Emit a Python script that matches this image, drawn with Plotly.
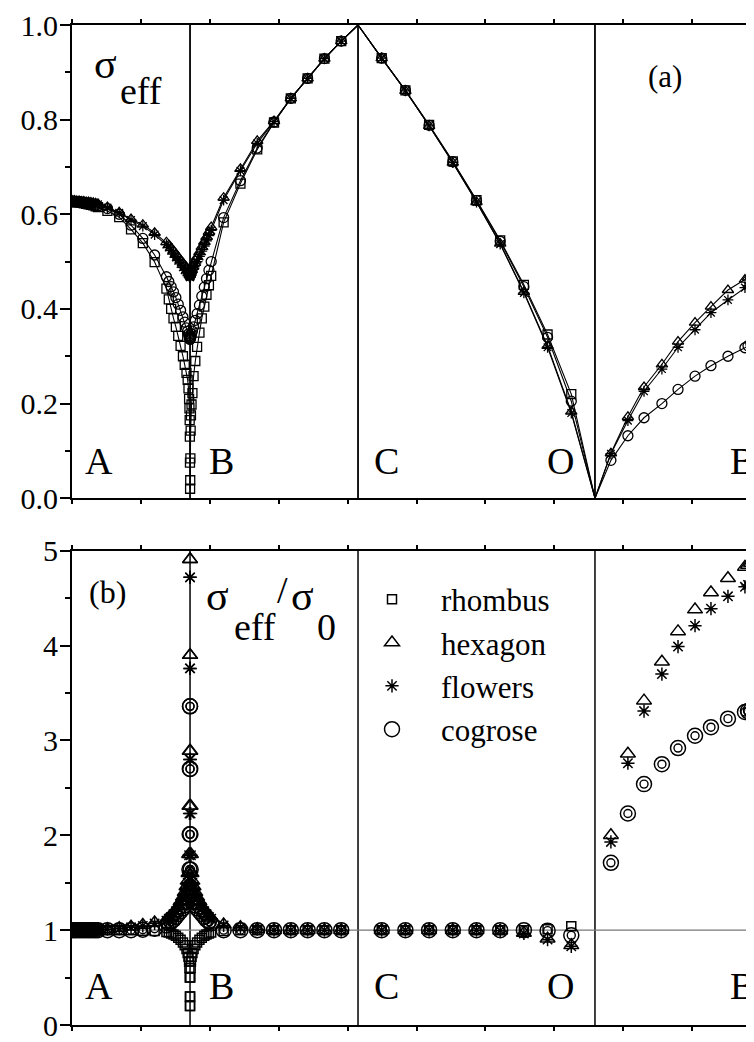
import plotly.graph_objects as go

# ---------------- path geometry (x axis in tick units) ----------------
X_A, X_B, X_C, X_O, X_B2 = 0.0, 1.713, 4.151, 7.59, 10.16
X_MAX = 9.898
SIGMA_AT_C = 1.0
SIGMA_AT_O = 0.0

# sampling (fraction along each segment)
t_ab = [0, .02, .04, .06, .08, .10, .12, .14, .16, .18, .20, .22, .3, .4, .5, .6, .7, .8,
        .82, .84, .86, .88, .9, .92, .94, .955, .97, .98, .987, .992, .995, .997, .9985, .9995]
t_bc = [.00036, .0011, .0021, .0036, .0054, .0089, .0143, .021, .0315, .042, .056, .07,
        .085, .098, .1125, .126, .2, .3, .4, .5, .6, .7, .8, .9]
t_co = [.1, .2, .3, .4, .5, .6, .7, .8, .9]
s_ob = [.09, .186, .277, .378, .469, .565, .655, .751, .847, .864, .881, .898, .915]

# ---------------- panel (a): sigma_eff ----------------
rhombus_ab = [.626, .626, .625, .625, .624, .623, .622, .621, .620, .619, .617, .615, .607, .594,
              .568, .539, .499, .443, .42, .40, .38, .362, .343, .322, .30, .282, .265, .25, .232,
              .21, .19, .165, .13, .075]
hexagon_ab = [.629, .629, .628, .628, .627, .627, .626, .626, .625, .624, .623, .622, .615, .604,
              .59, .578, .561, .541, .535, .529, .523, .516, .51, .503, .497, .492, .488, .485,
              .482, .481, .48, .479, .479, .478]
flowers_ab = [.628, .628, .627, .627, .626, .626, .625, .625, .624, .623, .622, .621, .614, .603,
              .588, .575, .557, .536, .53, .523, .516, .509, .502, .495, .488, .482, .477, .474,
              .471, .47, .469, .468, .468, .467]
cogrose_ab = [.628, .628, .627, .627, .626, .625, .624, .623, .622, .621, .619, .617, .612, .60,
              .577, .549, .514, .468, .458, .447, .436, .424, .41, .397, .383, .372, .36, .353,
              .347, .343, .34, .338, .337, .336]

rhombus_bc = [.02, .038, .084, .143, .175, .198, .222, .258, .29, .32, .35, .38, .405, .43, .45,
              .47, .583, .665, .737, .794, .845, .887, .929, .966]
hexagon_bc = [.478, .479, .48, .481, .482, .485, .489, .494, .502, .51, .52, .531, .542, .552,
              .563, .573, .635, .696, .755, .797, .845, .887, .929, .966]
flowers_bc = [.467, .468, .469, .47, .471, .474, .478, .484, .492, .5, .511, .522, .533, .544,
              .555, .566, .63, .692, .75, .796, .845, .887, .929, .966]
cogrose_bc = [.336, .337, .338, .34, .342, .347, .353, .362, .376, .39, .408, .427, .446, .464,
              .482, .50, .593, .671, .74, .795, .845, .887, .929, .966]

rhombus_co = [.93, .862, .789, .712, .63, .545, .451, .346, .22]
hexagon_co = [.93, .861, .787, .709, .626, .538, .436, .322, .183]
flowers_co = [.93, .861, .787, .709, .626, .537, .434, .319, .18]
cogrose_co = [.93, .862, .788, .711, .629, .543, .447, .34, .205]

hexagon_ob = [.095, .172, .235, .283, .331, .371, .405, .44, .462, .466, .47, .474, .478]
flowers_ob = [.094, .164, .226, .273, .319, .356, .392, .419, .445, .449, .452, .455, .458]
cogrose_ob = [.08, .132, .17, .20, .23, .258, .28, .30, .318, .322, .326, .33, .333]

# ---------------- panel (b): sigma_eff / sigma_0 ----------------
rhombus_r_ab = [1, 1, 1, 1, 1, 1, 1, 1, 1, 1, 1, 1, 1.0, 1.0, .998, .995, .99, .98,
                .975, .965, .955, .94, .92, .9, .87, .84, .8, .76, .72, .67, .6, .5, .3, .2]
hexagon_r_ab = [1, 1, 1, 1, 1, 1, 1, 1, 1, 1, 1, 1, 1.01, 1.02, 1.035, 1.055, 1.08, 1.11,
                1.13, 1.15, 1.18, 1.21, 1.25, 1.3, 1.35, 1.4, 1.46, 1.52, 1.6, 1.8, 2.31,
                2.89, 3.9, 4.91]
flowers_r_ab = [1, 1, 1, 1, 1, 1, 1, 1, 1, 1, 1, 1, 1.01, 1.015, 1.03, 1.045, 1.07, 1.1,
                1.12, 1.14, 1.17, 1.2, 1.24, 1.28, 1.33, 1.38, 1.44, 1.5, 1.58, 1.79, 2.23,
                2.8, 3.76, 4.72]
cogrose_r_ab = [1, 1, 1, 1, 1, 1, 1, 1, 1, 1, 1, 1, 1.0, 1.0, 1.0, 1.005, 1.015, 1.05,
                1.07, 1.09, 1.11, 1.14, 1.17, 1.2, 1.23, 1.26, 1.3, 1.34, 1.38, 1.45, 1.64,
                2.01, 2.7, 3.36]

rhombus_r_bc = [.2, .3, .5, .6, .67, .72, .76, .8, .84, .87, .9, .92, .94, .955, .965, .975,
                .99, 1, 1, 1, 1, 1, 1, 1]
hexagon_r_bc = [4.91, 3.9, 2.89, 2.31, 1.8, 1.6, 1.52, 1.46, 1.4, 1.35, 1.3, 1.25, 1.21,
                1.18, 1.15, 1.13, 1.06, 1.03, 1.01, 1, 1, 1, 1, 1]
flowers_r_bc = [4.72, 3.76, 2.8, 2.23, 1.79, 1.58, 1.5, 1.44, 1.38, 1.33, 1.28, 1.24, 1.2,
                1.17, 1.14, 1.12, 1.05, 1.025, 1.01, 1, 1, 1, 1, 1]
cogrose_r_bc = [3.36, 2.7, 2.01, 1.64, 1.45, 1.38, 1.34, 1.3, 1.26, 1.23, 1.2, 1.17, 1.14,
                1.11, 1.09, 1.07, 1, 1, 1, 1, 1, 1, 1, 1]

rhombus_r_co = [1, 1, 1, 1, 1, 1, 1.0, 1.01, 1.04]
hexagon_r_co = [1, 1, 1, 1, 1, .995, .97, .91, .84]
flowers_r_co = [1, 1, 1, 1, 1, .995, .965, .90, .83]
cogrose_r_co = [1, 1, 1, 1, 1, 1, 1.0, .995, .945]

hexagon_r_ob = [2.0, 2.86, 3.42, 3.83, 4.15, 4.38, 4.56, 4.71, 4.83, 4.85, 4.87, 4.89, 4.9]
flowers_r_ob = [1.93, 2.76, 3.31, 3.70, 3.99, 4.21, 4.39, 4.52, 4.62, 4.64, 4.66, 4.68, 4.69]
cogrose_r_ob = [1.71, 2.23, 2.54, 2.75, 2.92, 3.05, 3.14, 3.23, 3.30, 3.31, 3.32, 3.33, 3.34]

series_names = ["rhombus", "hexagon", "flowers", "cogrose"]
path_labels = ["A", "B", "C", "O", "B"]

# ---------------- build ----------------
def seg(ts, x0, x1):
    return [x0 + t * (x1 - x0) for t in ts]

x_ab = seg(t_ab, X_A, X_B)
x_bc = seg(t_bc, X_B, X_C)
x_co = seg(t_co, X_C, X_O)
x_ob = seg(s_ob, X_O, X_B2)

top = {
    "rhombus": (rhombus_ab, rhombus_bc, rhombus_co, []),
    "hexagon": (hexagon_ab, hexagon_bc, hexagon_co, hexagon_ob),
    "flowers": (flowers_ab, flowers_bc, flowers_co, flowers_ob),
    "cogrose": (cogrose_ab, cogrose_bc, cogrose_co, cogrose_ob),
}
bot = {
    "rhombus": (rhombus_r_ab, rhombus_r_bc, rhombus_r_co, []),
    "hexagon": (hexagon_r_ab, hexagon_r_bc, hexagon_r_co, hexagon_r_ob),
    "flowers": (flowers_r_ab, flowers_r_bc, flowers_r_co, flowers_r_ob),
    "cogrose": (cogrose_r_ab, cogrose_r_bc, cogrose_r_co, cogrose_r_ob),
}
symbols = {"rhombus": "square-open", "hexagon": "triangle-up-open",
           "flowers": "asterisk-open", "cogrose": "circle-open"}
size_top = {"rhombus": 9, "hexagon": 10, "flowers": 9, "cogrose": 10}
size_bot = {"rhombus": 9, "hexagon": 13, "flowers": 11, "cogrose": 15}

fig = go.Figure()
for name in series_names:
    ab, bc, co, ob = top[name]
    xo = x_ob[:len(ob)]
    # connecting line (passes through the C and O vertices)
    fig.add_trace(go.Scatter(
        x=x_ab + x_bc + [X_C] + x_co + [X_O] + xo,
        y=ab + bc + [SIGMA_AT_C] + co + [SIGMA_AT_O] + ob,
        mode="lines", line=dict(color="black", width=1.1), showlegend=False,
        hoverinfo="skip", xaxis="x", yaxis="y"))
    fig.add_trace(go.Scatter(
        x=x_ab + x_bc + x_co + xo, y=ab + bc + co + ob, mode="markers",
        marker=dict(symbol=symbols[name], size=size_top[name], color="black",
                    line=dict(color="black", width=1.3)),
        showlegend=False, xaxis="x", yaxis="y"))

for name in series_names:
    ab, bc, co, ob = bot[name]
    xo = x_ob[:len(ob)]
    xx = x_ab + x_bc + x_co + xo
    yy = ab + bc + co + ob
    fig.add_trace(go.Scatter(
        x=xx, y=yy, mode="markers", name=name,
        marker=dict(symbol=symbols[name], size=size_bot[name], color="black",
                    line=dict(color="black", width=1.5)),
        xaxis="x2", yaxis="y2"))
    if name == "cogrose":
        fig.add_trace(go.Scatter(
            x=xx, y=yy, mode="markers", showlegend=False,
            marker=dict(symbol="circle-open", size=8, color="black",
                        line=dict(color="black", width=1.4)),
            xaxis="x2", yaxis="y2"))

# ---------------- layout ----------------
# the page body has an 8 px margin, so the figure is made 8 px smaller
OFF = 8
W, H = 754 - OFF, 1042 - OFF
ML, MR, MT, MB = 72 - OFF, 0, 23 - OFF, 11
PW, PH = W - ML - MR, H - MT - MB


def px(xp):  # page pixel -> paper
    return (xp - OFF - ML) / PW


def py(yp):
    return (H - MB - (yp - OFF)) / PH


FONT = "Liberation Serif, Times New Roman, serif"
xcommon = dict(range=[0, X_MAX], tick0=0, dtick=1, ticks="outside", ticklen=4, tickwidth=1.5,
               tickcolor="black", showticklabels=False, showline=True, linewidth=2,
               linecolor="black", mirror="ticks", showgrid=False, zeroline=False)
ycommon = dict(ticks="outside", ticklen=10, tickwidth=2, tickcolor="black", showline=True,
               linewidth=2, linecolor="black", showgrid=False, zeroline=False,
               ticklabelstandoff=-4, ticklabeloverflow="allow",
               tickfont=dict(family=FONT, size=30, color="black"))

fig.update_layout(
    width=W, height=H, margin=dict(l=ML, r=MR, t=MT, b=MB),
    paper_bgcolor="white", plot_bgcolor="white",
    font=dict(family=FONT, size=30, color="black"),
    xaxis=dict(domain=[0, 1], anchor="y", **xcommon),
    yaxis=dict(domain=[py(500), 1], anchor="x", range=[0, 1], dtick=0.2, tickformat=".1f",
               minor=dict(dtick=0.1, ticks="outside", ticklen=5, tickwidth=1.5,
                          tickcolor="black"), **ycommon),
    xaxis2=dict(domain=[0, 1], anchor="y2", **xcommon),
    yaxis2=dict(domain=[0, py(553)], anchor="x2", range=[0, 5], dtick=1,
                minor=dict(dtick=0.5, ticks="outside", ticklen=5, tickwidth=1.5,
                           tickcolor="black"), **ycommon),
    showlegend=True,
    legend=dict(x=px(343), y=py(575), xanchor="left", yanchor="top",
                font=dict(family=FONT, size=31, color="black"), itemwidth=88,
                bgcolor="rgba(0,0,0,0)", borderwidth=0, tracegroupgap=0),
)

shapes = []
for xv in (X_B, X_C, X_O):
    shapes.append(dict(type="line", xref="x", yref="y domain", x0=xv, x1=xv, y0=0, y1=1,
                       line=dict(color="black", width=1.8), layer="below"))
    shapes.append(dict(type="line", xref="x2", yref="y2 domain", x0=xv, x1=xv, y0=0, y1=1,
                       line=dict(color="black", width=1.5), layer="below"))
shapes.append(dict(type="line", xref="x2 domain", yref="y2", x0=0, x1=1, y0=1, y1=1,
                   line=dict(color="#777777", width=1.2), layer="below"))
fig.update_layout(shapes=shapes)

ann = []


def text(t, xp, yp, size, xanchor="center"):
    ann.append(dict(text=t, x=px(xp), y=py(yp), xref="paper", yref="paper",
                    xanchor=xanchor, yanchor="middle", showarrow=False,
                    font=dict(family=FONT, size=size, color="black")))


# panel (a) texts
text("σ", 105, 62, 42)
text("eff", 141, 90, 38)
text("(a)", 665, 75, 31)
# panel (b) texts
text("(b)", 107, 595, 32)
text("σ", 217, 599, 42)
text("eff", 255, 630, 38)
text("/", 282, 593, 38)
text("σ", 302, 599, 42)
text("0", 326, 630, 38)

label_pos = [(83, "left"), (207, "left"), (372, "left"), (576, "right"), (728, "left")]
for lab, (xp, anc) in zip(path_labels, label_pos):
    text(lab, xp, 462, 38, anc)
    text(lab, xp, 992, 38, anc)

fig.update_layout(annotations=ann)
fig.write_html("out.html")
